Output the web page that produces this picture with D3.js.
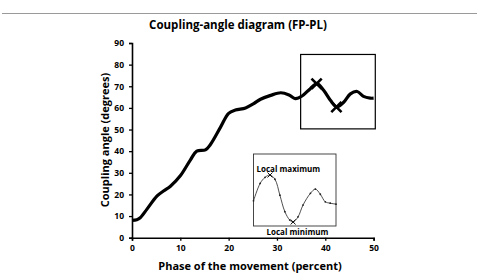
<!DOCTYPE html>
<html>
<head>
<meta charset="utf-8">
<script src="https://cdn.jsdelivr.net/npm/d3@7"></script>
<style>
body { margin:0; background:#fff; }
text { font-family: "Open Sans", "Noto Sans", sans-serif; font-weight:bold; }
</style>
</head>
<body>
<div id="my_viz"></div>
<script>
const width = 479
const height = 273
const margin = {top:43, right:105, bottom:36, left:132}

// main curve: phase (%) vs coupling angle (deg)
const phase = [0, 1, 1.7, 3.1, 5.2, 6.6, 7.9, 10, 12.1, 13.4, 15.2, 16.2, 18.3, 20, 21.4, 23.5, 25.2, 26.6, 28.7, 30.8,
  32.5, 33.8, 35.2, 36.9, 38.3, 39.7, 41.1, 42.4, 43.8, 45.2, 46.6, 47.9, 49.3, 50]
const angle = [8, 8.3, 9.2, 13.2, 19.3, 21.7, 23.7, 28.6, 36, 40, 40.6, 43, 51, 57.5, 59, 60, 62, 64, 65.8, 67,
  66, 64.3, 65.5, 68.9, 71.2, 68, 63.4, 60.4, 62.6, 66.5, 67.6, 65.3, 64.5, 64.5]
// marked extrema
const extrema = [{x:38.2, y:71.2}, {x:42.3, y:60.4}]
// zoom box around the tail (data units)
const zoomBox = {x0:34.9, x1:50.35, y0:50.3, y1:84.7}

const xTicks = [0, 10, 20, 30, 40, 50]
const yTicks = [0, 10, 20, 30, 40, 50, 60, 70, 80, 90]

// inset sketch (arbitrary units)
const insetX = [0, 8, 14, 20, 26, 32, 38, 44, 48, 54, 60, 69, 75, 81, 87, 93, 100]
const insetY = [45, 82, 95, 100, 91, 57, 22, 4, 0, 11, 36, 61, 70, 59, 43, 40, 38]
const insetMax = 3
const insetMin = 8

const bounded = {
  width : width - margin.left - margin.right,
  height : height - margin.top - margin.bottom
}

var svg = d3.select("#my_viz").append("svg")
  .attr("width", width)
  .attr("height", height)

// top rule
svg.append("line")
  .attr("x1", 2).attr("x2", 477)
  .attr("y1", 13.5).attr("y2", 13.5)
  .attr("stroke", "#9a9a9a")
  .attr("stroke-width", 1.2)

svg.append("text")
  .attr("x", 238)
  .attr("y", 29)
  .attr("text-anchor", "middle")
  .style("font-size", "11.5px")
  .text("Coupling-angle diagram (FP-PL)")

var group = svg.append("g")
  .attr("transform", "translate(" + margin.left + "," + margin.top + ")")

var xAxis = d3.scaleLinear().domain([0, 50]).range([0, 241.6])
var yAxis = d3.scaleLinear().domain([0, 90]).range([bounded.height + 0.7, 0])

var gx = group.append("g")
  .attr("transform", "translate(0," + yAxis(0) + ")")
  .call(d3.axisBottom(xAxis).tickValues(xTicks).tickSize(3).tickPadding(4))
var gy = group.append("g")
  .call(d3.axisLeft(yAxis).tickValues(yTicks).tickSize(3).tickPadding(5))
group.selectAll(".domain").attr("stroke-width", 1.6)
group.selectAll(".tick line").attr("stroke-width", 1.3)
group.selectAll(".tick text").style("font-size", "8.5px").style("font-family", "'Open Sans', sans-serif").style("font-weight", "bold")

svg.append("text")
  .attr("x", 250)
  .attr("y", 270)
  .attr("text-anchor", "middle")
  .style("font-size", "11px")
  .text("Phase of the movement (percent)")

svg.append("text")
  .attr("transform", "translate(109,140) rotate(-90)")
  .attr("text-anchor", "middle")
  .style("font-size", "11px")
  .text("Coupling angle (degrees)")

var line = d3.line()
  .x((d, i) => xAxis(phase[i]))
  .y(d => yAxis(d))
  .curve(d3.curveCatmullRom)

group.append("path")
  .attr("d", line(angle))
  .attr("fill", "none")
  .attr("stroke", "black")
  .attr("stroke-width", 3.2)
  .attr("stroke-linejoin", "round")

group.append("rect")
  .attr("x", xAxis(zoomBox.x0))
  .attr("y", yAxis(zoomBox.y1))
  .attr("width", xAxis(zoomBox.x1) - xAxis(zoomBox.x0))
  .attr("height", yAxis(zoomBox.y0) - yAxis(zoomBox.y1))
  .attr("fill", "none")
  .attr("stroke", "black")
  .attr("stroke-width", 1.2)

var cross = d3.symbol().type(d3.symbolX).size(70)
group.selectAll(".extreme")
  .data(extrema)
  .enter()
  .append("path")
  .attr("class", "extreme")
  .attr("transform", d => "translate(" + xAxis(d.x) + "," + yAxis(d.y) + ")")
  .attr("d", cross)
  .attr("fill", "none")
  .attr("stroke", "black")
  .attr("stroke-width", 2.6)

// inset
var inset = svg.append("g").attr("transform", "translate(253.5,154)")
var ix = d3.scaleLinear().domain([0, 100]).range([0, 82.5])
var iy = d3.scaleLinear().domain([0, 100]).range([68, 21])
inset.append("rect")
  .attr("width", 82.5).attr("height", 72)
  .attr("fill", "white")
  .attr("stroke", "#333").attr("stroke-width", 0.9)
var iline = d3.line()
  .x((d, i) => ix(insetX[i]))
  .y(d => iy(d))
  .curve(d3.curveCatmullRom)
inset.append("path")
  .attr("d", iline(insetY))
  .attr("fill", "none")
  .attr("stroke", "#222")
  .attr("stroke-width", 0.8)
inset.selectAll("circle")
  .data(insetY)
  .enter()
  .append("circle")
  .attr("cx", (d, i) => ix(insetX[i]))
  .attr("cy", d => iy(d))
  .attr("r", 0.9)
  .attr("fill", "#222")
var smallCross = d3.symbol().type(d3.symbolX).size(18)
inset.selectAll(".ix")
  .data([insetMax, insetMin])
  .enter()
  .append("path")
  .attr("transform", d => "translate(" + ix(insetX[d]) + "," + iy(insetY[d]) + ")")
  .attr("d", smallCross)
  .attr("fill", "none")
  .attr("stroke", "#111")
  .attr("stroke-width", 1)
inset.append("text")
  .attr("x", 3).attr("y", 17.5)
  .style("font-size", "8px")
  .text("Local maximum")
inset.append("text")
  .attr("x", 13).attr("y", 80.5)
  .style("font-size", "8px")
  .text("Local minimum")
</script>
</body>
</html>
